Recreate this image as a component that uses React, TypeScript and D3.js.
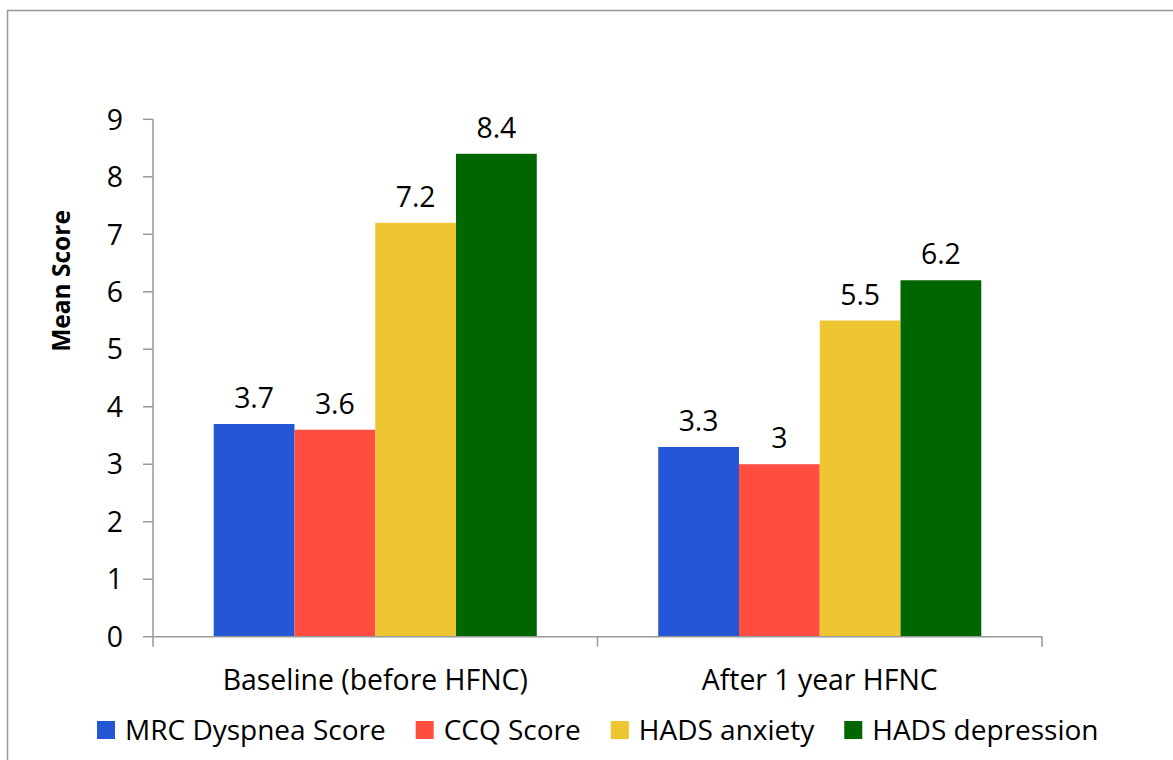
import React from "react";
import * as d3 from "d3";

const categories = ["Baseline (before HFNC)", "After 1 year HFNC"];
const seriesNames = ["MRC Dyspnea Score", "CCQ Score", "HADS anxiety", "HADS depression"];
const seriesColors = ["#2457D6", "#FF4D40", "#EDC631", "#006600"];
const mrcValues = [3.7, 3.3];
const ccqValues = [3.6, 3.0];
const anxietyValues = [7.2, 5.5];
const depressionValues = [8.4, 6.2];
const yTicks = [0, 1, 2, 3, 4, 5, 6, 7, 8, 9];
const yTitle = "Mean Score";

const seriesValues = [mrcValues, ccqValues, anxietyValues, depressionValues];

const W = 1173;
const H = 760;
const FONT = "'Open Sans', sans-serif";
const FS = 28.4;
const LFS = 28;
const AXIS = "#999999";

function measure(text: string, size: number, weight = "normal") {
  const c = document.createElement("canvas").getContext("2d")!;
  c.font = `${weight} ${size}px 'Open Sans'`;
  return c.measureText(text).width;
}

export default function App() {
  const left = 153;
  const right = 1042;
  const top = 119.3;
  const bottom = 636.7;

  const x0 = d3.scaleBand<string>().domain(categories).range([left, right]).padding(0);
  const gap = x0.bandwidth() * 0.1366;
  const x1 = d3
    .scaleBand<string>()
    .domain(seriesNames)
    .range([gap, x0.bandwidth() - gap])
    .padding(0);
  const y = d3.scaleLinear().domain([0, 9]).range([bottom, top]);

  // legend layout
  const legendY = 740;
  const sq = 18;
  let lx = 97;
  const legendItems = seriesNames.map((name, i) => {
    const item = { name, color: seriesColors[i], x: lx };
    lx += sq + 10 + measure(name, LFS) + 30;
    return item;
  });

  const boundaries = [left, ...categories.map((c) => (x0(c) as number) + x0.bandwidth())];

  return (
    <svg
      width={W}
      height={H}
      style={{ position: "absolute", left: 0, top: 0, background: "#fff" }}
      fontFamily={FONT}
    >
      <rect x={7.5} y={10.5} width={W + 20} height={H + 20} fill="#fff" stroke="#999" strokeWidth={1.5} />

      {/* bars */}
      {categories.map((cat, ci) => (
        <g key={cat} transform={`translate(${x0(cat)},0)`}>
          {seriesNames.map((s, si) => {
            const v = seriesValues[si][ci];
            const bx = x1(s) as number;
            return (
              <g key={s}>
                <rect x={bx} y={y(v)} width={x1.bandwidth()} height={bottom - y(v)} fill={seriesColors[si]} />
                <text
                  x={bx + x1.bandwidth() / 2}
                  y={y(v) - 16}
                  textAnchor="middle"
                  fontSize={FS}
                  fill="#000"
                >
                  {String(v)}
                </text>
              </g>
            );
          })}
        </g>
      ))}

      {/* y axis */}
      <line x1={left} x2={left} y1={top} y2={bottom} stroke={AXIS} strokeWidth={1.5} />
      {yTicks.map((t) => (
        <g key={t}>
          <line x1={left - 10} x2={left} y1={y(t)} y2={y(t)} stroke={AXIS} strokeWidth={1.5} />
          <text x={123} y={y(t)} dy="0.36em" textAnchor="end" fontSize={FS} fill="#000">
            {t}
          </text>
        </g>
      ))}

      {/* x axis */}
      <line x1={left} x2={right} y1={bottom} y2={bottom} stroke={AXIS} strokeWidth={1.5} />
      {boundaries.map((b, i) => (
        <line key={i} x1={b} x2={b} y1={bottom} y2={bottom + 10} stroke={AXIS} strokeWidth={1.5} />
      ))}
      {categories.map((cat) => (
        <text
          key={cat}
          x={(x0(cat) as number) + x0.bandwidth() / 2}
          y={690}
          textAnchor="middle"
          fontSize={FS}
          fill="#000"
        >
          {cat}
        </text>
      ))}

      {/* y title */}
      <text
        transform={`translate(70,281) rotate(-90)`}
        textAnchor="middle"
        fontSize={24.5}
        fontWeight="bold"
        fill="#000"
      >
        {yTitle}
      </text>

      {/* legend */}
      {legendItems.map((it) => (
        <g key={it.name}>
          <rect x={it.x} y={legendY - 19} width={sq} height={sq} fill={it.color} />
          <text x={it.x + sq + 10} y={legendY} fontSize={LFS} fill="#000">
            {it.name}
          </text>
        </g>
      ))}
    </svg>
  );
}
